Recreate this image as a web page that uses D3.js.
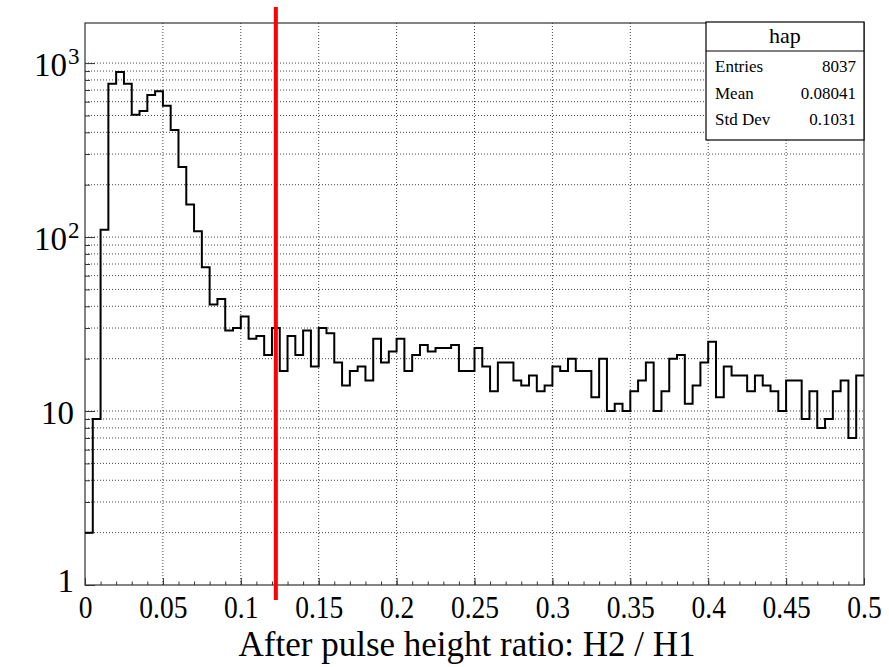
<!DOCTYPE html>
<html>
<head>
<meta charset="utf-8">
<script src="https://cdn.jsdelivr.net/npm/d3@7"></script>
<style>
  body { margin: 0; background: #fff; }
  text { font-family: "Liberation Serif", "DejaVu Serif", serif; fill: #000; }
</style>
</head>
<body>
<svg id="chart" width="889" height="667"></svg>
<script>
// Histogram "hap": 100 equal bins spanning the x range
const xRange = [0, 0.5];
const counts = [
  2, 9, 110, 760, 888, 760, 505, 531, 655, 690,
  568, 412, 253, 154, 108, 67, 41, 44, 29, 30,
  35, 26, 27, 21, 30, 17, 27, 21, 29, 18,
  30, 28, 19, 14, 17, 18, 15, 26, 19, 22,
  26, 17, 21, 24, 22, 23, 23, 24, 17, 17,
  23, 18, 13, 19, 19, 15, 14, 16, 13, 14,
  18, 17, 20, 17, 17, 12, 20, 10, 11, 10,
  13, 15, 19, 10, 13, 20, 21, 11, 14, 19,
  25, 12, 18, 16, 16, 13, 16, 14, 13, 10,
  15, 15, 9, 13, 8, 9, 13, 15, 7, 16
];
const xTickValues = [0, 0.05, 0.1, 0.15, 0.2, 0.25, 0.3, 0.35, 0.4, 0.45, 0.5];
const xTickLabels = ["0", "0.05", "0.1", "0.15", "0.2", "0.25", "0.3", "0.35", "0.4", "0.45", "0.5"];
const xMinorStep = 0.01;
const yTickValues = [1, 10, 100, 1000];
const yTickBase = ["1", "10", "10", "10"];
const yTickExp = ["", "", "2", "3"];
const yMax = 1700;
const cutValue = 0.1225;
const histName = "hap";
const statLabels = ["Entries", "Mean", "Std Dev"];
const statValues = ["8037", "0.08041", "0.1031"];
const xTitle = "After pulse height ratio: H2 / H1";

const FONT = "Liberation Serif";
const W = 889, H = 667;
const margin = { top: 23, right: 25, bottom: 82, left: 85 };
const svg = d3.select("#chart");
svg.append("rect").attr("width", W).attr("height", H).attr("fill", "#fff");

const x = d3.scaleLinear().domain(xRange).range([margin.left, W - margin.right]);
const y = d3.scaleLog().domain([1, yMax]).range([H - margin.bottom, margin.top]);
const x0 = x.range()[0], x1 = x.range()[1];
const yb = y.range()[0], yt = y.range()[1];

// dotted grid
const grid = svg.append("g").attr("stroke", "#444").attr("stroke-width", 1)
  .attr("stroke-dasharray", "1,2");
xTickValues.slice(1, -1).forEach(v => {
  grid.append("line").attr("x1", x(v)).attr("x2", x(v)).attr("y1", yt).attr("y2", yb);
});
const yGridValues = [];
for (let e = 0; e <= 3; e++) for (let m = 1; m <= 9; m++) {
  const v = m * Math.pow(10, e);
  if (v > 1 && v < yMax) yGridValues.push(v);
}
yGridValues.forEach(v => {
  grid.append("line").attr("x1", x0).attr("x2", x1).attr("y1", y(v)).attr("y2", y(v));
});

// tick-only axis: no domain line, no labels
const tickOnly = g => {
  g.select(".domain").remove();
  g.selectAll("text").remove();
  g.selectAll("line").attr("stroke", "#333");
};

// x axis ticks (inward)
const minorX = d3.range(0, 50 + 1).map(i => i * xMinorStep);
svg.append("g").attr("transform", `translate(0,${yb})`)
  .call(d3.axisBottom(x).tickValues(minorX).tickSize(-3.5))
  .call(tickOnly);
svg.append("g").attr("transform", `translate(0,${yb})`)
  .attr("font-family", FONT)
  .call(d3.axisBottom(x).tickValues(xTickValues).tickSize(-7)
        .tickFormat((d, i) => xTickLabels[i]).tickPadding(0))
  .call(g => g.select(".domain").remove())
  .call(g => g.selectAll("line").attr("stroke", "#333"))
  .call(g => g.selectAll("text")
        .attr("font-family", FONT)
        .attr("font-size", 32)
        .attr("fill", "#000")
        .attr("dy", null)
        .attr("y", 33)
        .attr("transform", "scale(0.86,1)"));

// y axis ticks (inward)
svg.append("g").attr("transform", `translate(${x0},0)`)
  .call(d3.axisLeft(y).tickValues(yGridValues.filter(v => !yTickValues.includes(v))).tickSize(-5))
  .call(tickOnly);
svg.append("g").attr("transform", `translate(${x0},0)`)
  .call(d3.axisLeft(y).tickValues(yTickValues).tickSize(-10))
  .call(tickOnly);

// y tick labels with superscript exponents
yTickValues.forEach((v, i) => {
  const base = Math.min(y(v) + 13, yb + 7);
  svg.append("text")
    .attr("x", x0 - (yTickExp[i] ? 18 : 11))
    .attr("y", base)
    .attr("text-anchor", "end")
    .attr("font-family", FONT)
    .attr("font-size", 33)
    .text(yTickBase[i]);
  if (yTickExp[i]) {
    svg.append("text")
      .attr("x", x0 - 17)
      .attr("y", base - 12)
      .attr("font-family", FONT)
      .attr("font-size", 23)
      .text(yTickExp[i]);
  }
});

// frame
svg.append("rect").attr("x", x0).attr("y", yt).attr("width", x1 - x0).attr("height", yb - yt)
  .attr("fill", "none").attr("stroke", "#333").attr("stroke-width", 1.2);

// histogram outline
const nb = counts.length;
const bw = (xRange[1] - xRange[0]) / nb;
const pts = counts.map((c, i) => [xRange[0] + i * bw, c]);
pts.push([xRange[1], counts[nb - 1]]);
const line = d3.line().x(d => x(d[0])).y(d => y(d[1])).curve(d3.curveStepAfter);
svg.append("path").attr("d", line(pts)).attr("fill", "none")
  .attr("stroke", "#000").attr("stroke-width", 2).attr("stroke-linejoin", "miter");

// cut line
svg.append("line")
  .attr("x1", x(cutValue)).attr("x2", x(cutValue))
  .attr("y1", yt - 16).attr("y2", yb + 15)
  .attr("stroke", "#ff0000").attr("stroke-width", 4);

// statistics box
const bx0 = 706, bx1 = x1, by0 = 22, by1 = 140, bsep = 51;
const sb = svg.append("g").attr("font-family", FONT);
sb.append("rect").attr("x", bx0).attr("y", by0).attr("width", bx1 - bx0).attr("height", by1 - by0)
  .attr("fill", "#fff").attr("stroke", "#000").attr("stroke-width", 1.2);
sb.append("line").attr("x1", bx0).attr("x2", bx1).attr("y1", bsep).attr("y2", bsep)
  .attr("stroke", "#000").attr("stroke-width", 1.2);
sb.append("text").attr("x", (bx0 + bx1) / 2).attr("y", 43).attr("text-anchor", "middle")
  .attr("font-family", FONT).attr("font-size", 22).text(histName);
statLabels.forEach((s, i) => {
  const yy = 72 + i * 26.5;
  sb.append("text").attr("x", bx0 + 9).attr("y", yy)
    .attr("font-family", FONT).attr("font-size", 17).text(s);
  sb.append("text").attr("x", bx1 - 8).attr("y", yy).attr("text-anchor", "end")
    .attr("font-family", FONT).attr("font-size", 17).text(statValues[i]);
});

// x axis title
svg.append("text").attr("x", 467).attr("y", 656).attr("text-anchor", "middle")
  .attr("font-family", FONT).attr("font-size", 35).text(xTitle);
</script>
</body>
</html>
